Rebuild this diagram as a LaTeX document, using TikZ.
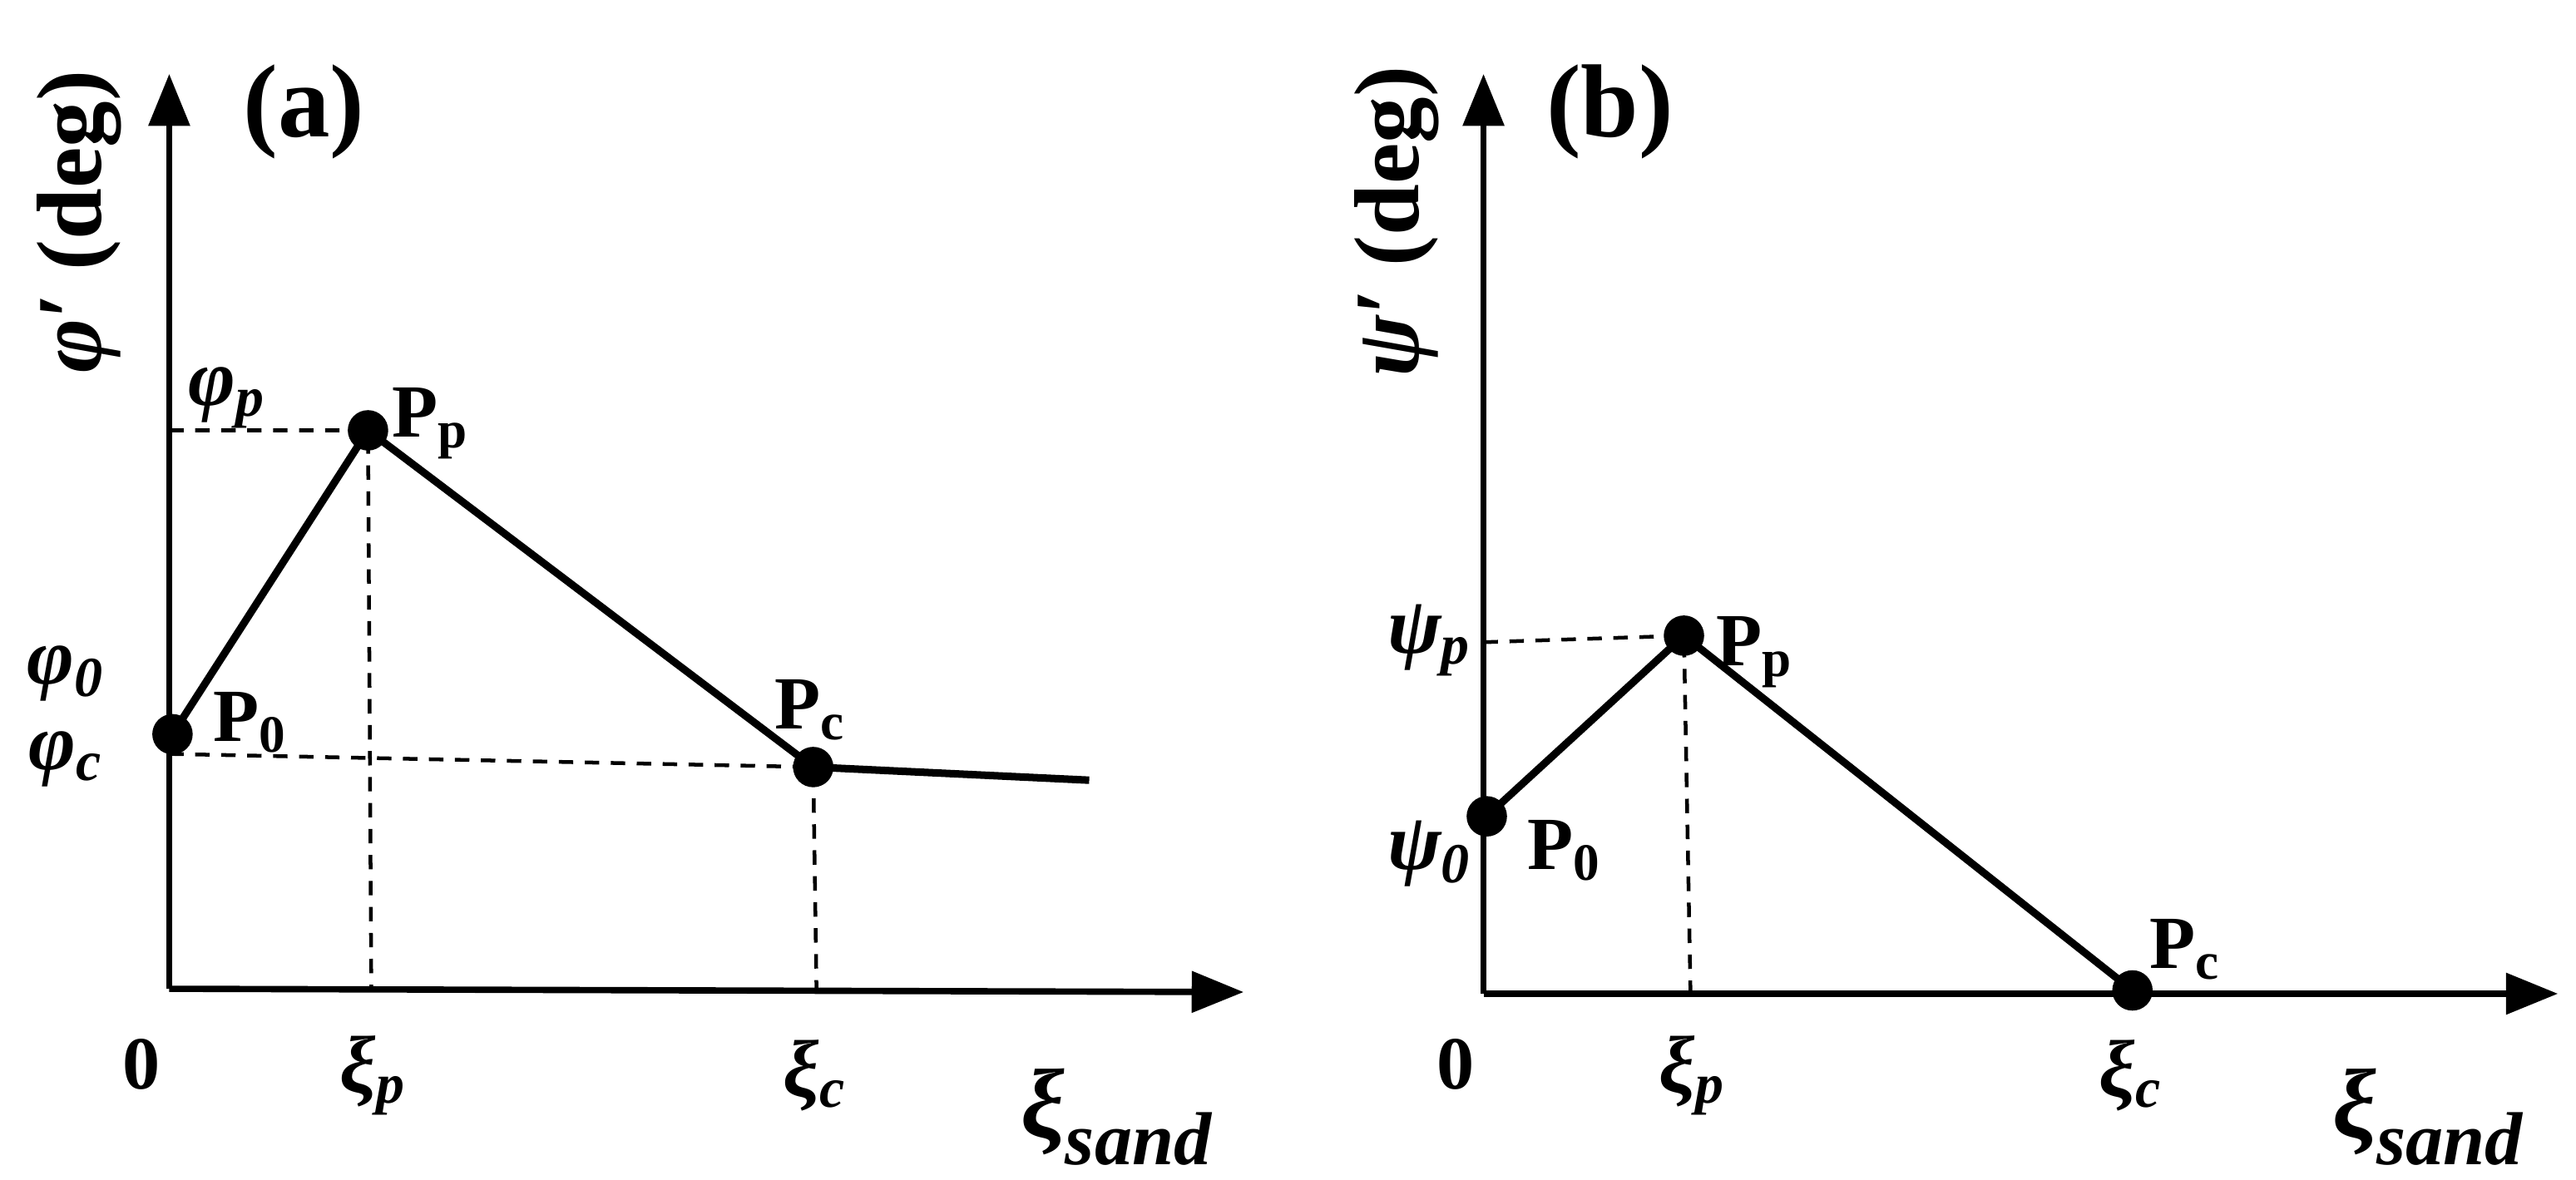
\documentclass[tikz,border=0pt]{standalone}
\usepackage{fontspec}
\setmainfont{Liberation Serif}
\usetikzlibrary{arrows.meta}
\begin{document}
\begin{tikzpicture}[x=0.02cm,y=-0.02cm,
 ax/.style={line width=2.2pt,-{Triangle[length=18pt,width=14pt]}},
 cv/.style={line width=2.6pt},
 dsh/.style={line width=1.3pt,dash pattern=on 5pt off 4pt},
 dot/.style={circle,fill=black,inner sep=0pt,minimum size=14pt},
 lb/.style={font=\bfseries\fontsize{26}{28}\selectfont,inner sep=0pt},
 gl/.style={font=\bfseries\itshape\fontsize{28}{30}\selectfont,inner sep=0pt},
 big/.style={font=\bfseries\fontsize{36}{40}\selectfont,inner sep=0pt}]
\useasboundingbox (0,0) rectangle (1568,718);
% panel a
\coordinate (ao) at (103,602);
\coordinate (ay) at (103,45);
\coordinate (ax) at (757,604);
\draw[ax] (ao) -- (ay);
\draw[ax] (ao) -- (ax);
\node[dot] (a0) at (105,447) {};
\node[dot] (ap) at (224,262) {};
\node[dot] (ac) at (495,467) {};
\coordinate (aend) at (663,475);
\coordinate (apy) at (103,262);
\coordinate (apx) at (226,602);
\coordinate (acy) at (103,459);
\coordinate (acx) at (497,603);
\draw[cv] (a0.center) -- (ap.center) -- (ac.center) -- (aend);
\draw[dsh] (apy) -- (ap.center) -- (apx);
\draw[dsh] (acy) -- (ac.center) -- (acx);
\node[big] at (185,68) {(a)};
\node[gl,rotate=90,font=\bfseries\fontsize{32}{34}\selectfont] at (48,135) {\textit{φ}′ (deg)};
\node[gl] at (138,242) {φ\textsubscript{\textit{p}}};
\node[gl] at (40,410) {φ\textsubscript{\textit{0}}};
\node[gl] at (40,462) {φ\textsubscript{\textit{c}}};
\node[lb] at (152,440) {P\textsubscript{0}};
\node[lb] at (262,258) {P\textsubscript{p}};
\node[lb] at (493,432) {P\textsubscript{c}};
\node[lb] at (86,648) {0};
\node[gl] at (227,655) {ξ\textsubscript{\textit{p}}};
\node[gl] at (496,655) {ξ\textsubscript{\textit{c}}};
\node[gl,font=\bfseries\itshape\fontsize{34}{36}\selectfont] at (680,680) {ξ\textsubscript{\fontsize{26}{28}\selectfont sand}};
% panel b
\coordinate (bo) at (903,605);
\coordinate (by) at (903,45);
\coordinate (bx) at (1557,605);
\draw[ax] (bo) -- (by);
\draw[ax] (bo) -- (bx);
\node[dot] (b0) at (905,497) {};
\node[dot] (bp) at (1025,387) {};
\node[dot] (bc) at (1298,603) {};
\coordinate (bpy) at (903,391);
\coordinate (bpx) at (1029,605);
\draw[cv] (b0.center) -- (bp.center) -- (bc.center);
\draw[dsh] (bpy) -- (bp.center) -- (bpx);
\node[big] at (980,68) {(b)};
\node[gl,rotate=90,font=\bfseries\fontsize{32}{34}\selectfont] at (850,135) {\textit{ψ}′ (deg)};
\node[gl] at (870,390) {ψ\textsubscript{\textit{p}}};
\node[gl] at (870,520) {ψ\textsubscript{\textit{0}}};
\node[lb] at (952,518) {P\textsubscript{0}};
\node[lb] at (1068,397) {P\textsubscript{p}};
\node[lb] at (1330,578) {P\textsubscript{c}};
\node[lb] at (886,648) {0};
\node[gl] at (1030,655) {ξ\textsubscript{\textit{p}}};
\node[gl] at (1297,655) {ξ\textsubscript{\textit{c}}};
\node[gl,font=\bfseries\itshape\fontsize{34}{36}\selectfont] at (1478,680) {ξ\textsubscript{\fontsize{26}{28}\selectfont sand}};
\end{tikzpicture}
\end{document}
